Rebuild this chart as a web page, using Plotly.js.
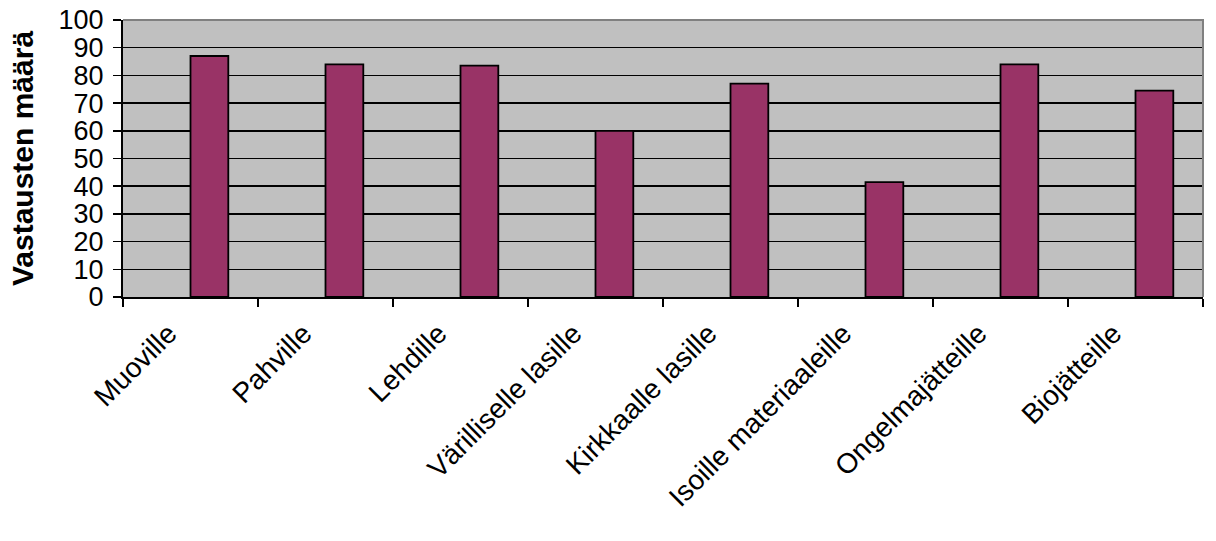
<!DOCTYPE html>
<html>
<head>
<meta charset="utf-8">
<script src="https://cdn.plot.ly/plotly-3.0.1.min.js"></script>
<style>html,body{margin:0;padding:0;background:#fff;}#chart{width:1216px;height:541px;}</style>
</head>
<body>
<div id="chart"></div>
<script>
const categories = ["Muoville", "Pahville", "Lehdille", "Värilliselle lasille", "Kirkkaalle lasille", "Isoille materiaaleille", "Ongelmajätteille", "Biojätteille"];
const values = [87, 84, 83.5, 60, 77, 41.5, 84, 74.5];
const yTickValues = [0, 10, 20, 30, 40, 50, 60, 70, 80, 90, 100];
const yTitle = "Vastausten määrä";

const font = "Liberation Sans, Arial, sans-serif";

const trace = {
  type: "bar",
  x: categories,
  y: values,
  width: 0.28,
  offset: 0,
  marker: {color: "#993366", line: {color: "#000000", width: 1.8}},
  hoverinfo: "x+y"
};

const layout = {
  width: 1216,
  height: 541,
  margin: {l: 123, r: 13, t: 20, b: 244},
  paper_bgcolor: "#ffffff",
  plot_bgcolor: "#c0c0c0",
  showlegend: false,
  font: {family: font, color: "#000000", size: 27},
  xaxis: {
    type: "category",
    tickson: "boundaries",
    ticks: "outside",
    ticklen: 8,
    tickwidth: 1.5,
    tickcolor: "#000000",
    tickangle: -45,
    ticklabelshift: -22,
    ticklabelstandoff: 7,
    showline: true,
    linecolor: "#000000",
    linewidth: 2,
    showgrid: false,
    tickfont: {family: font, size: 28, color: "#000000"},
    range: [-0.5, 7.5],
    fixedrange: true
  },
  yaxis: {
    range: [0, 100],
    tickvals: yTickValues,
    ticktext: yTickValues.map(String),
    ticks: "outside",
    ticklen: 8,
    tickwidth: 1.5,
    tickcolor: "#000000",
    ticklabelstandoff: 4,
    showline: true,
    linecolor: "#000000",
    linewidth: 2,
    showgrid: true,
    gridcolor: "#000000",
    gridwidth: 1.5,
    zeroline: false,
    tickfont: {family: font, size: 27, color: "#000000"},
    title: {text: yTitle, font: {family: font, size: 30, color: "#000000", weight: "bold"}, standoff: 16},
    fixedrange: true
  },
  shapes: [{
    type: "path",
    xref: "paper", yref: "paper",
    path: "M 0,1 L 1,1 L 1,0",
    line: {color: "#808080", width: 2},
    layer: "above"
  }]
};

Plotly.newPlot("chart", [trace], layout, {displayModeBar: false, staticPlot: true});
</script>
</body>
</html>
